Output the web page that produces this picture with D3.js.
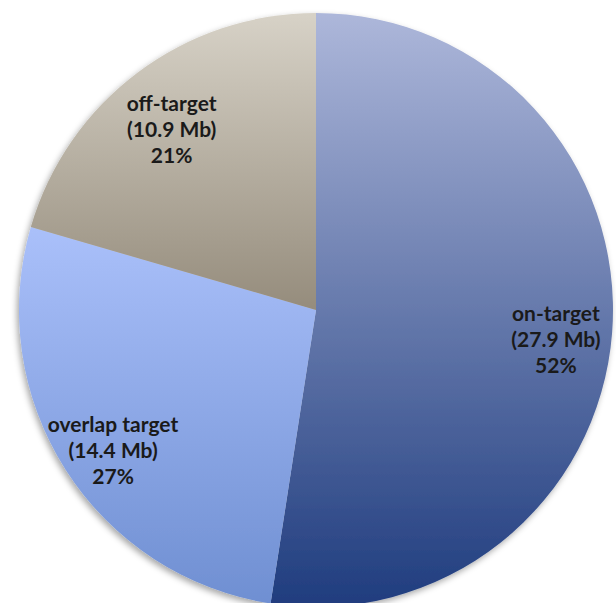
<!DOCTYPE html>
<meta charset="utf-8">
<script src="https://d3js.org/d3.v7.min.js"></script>
<style>
  body { margin: 0; background: #fff; }
</style>
<div id="my_dataviz"></div>
<script>

// data
var categories = ["on-target", "overlap target", "off-target"];
var sizesMb = [27.9, 14.4, 10.9];
var percentLabels = ["52%", "27%", "21%"];

// gradient colours (top, bottom) per slice
var gradTop = ["#adb7da", "#aac0fa", "#d7d2c7"];
var gradBottom = ["#1f3c7e", "#6f8fd2", "#958c7c"];

var width = 616, height = 603;
var cx = 316, cy = 310, radius = 297;

var svg = d3.select("#my_dataviz")
  .append("svg")
    .attr("width", width)
    .attr("height", height);

var defs = svg.append("defs");

categories.forEach(function(c, i) {
  var g = defs.append("linearGradient")
    .attr("id", "grad" + i)
    .attr("x1", 0).attr("y1", 0)
    .attr("x2", 0).attr("y2", 1);
  g.append("stop").attr("offset", "0%").attr("stop-color", gradTop[i]);
  g.append("stop").attr("offset", "100%").attr("stop-color", gradBottom[i]);
});

var shadow = defs.append("filter")
  .attr("id", "shadow")
  .attr("x", "-10%").attr("y", "-10%")
  .attr("width", "120%").attr("height", "120%");
shadow.append("feDropShadow")
  .attr("dx", -2).attr("dy", 3)
  .attr("stdDeviation", 3)
  .attr("flood-color", "#000")
  .attr("flood-opacity", 0.35);

var data = categories.map(function(c, i) {
  return {name: c, value: sizesMb[i], pct: percentLabels[i], idx: i};
});

var pie = d3.pie()
  .sort(null)
  .value(function(d) { return d.value; });

var arc = d3.arc()
  .innerRadius(0)
  .outerRadius(radius);

var labelArc = d3.arc()
  .innerRadius(radius * 0.81)
  .outerRadius(radius * 0.81);

var g = svg.append("g")
  .attr("transform", "translate(" + cx + "," + cy + ")");

var slices = pie(data);

var sliceG = g.append("g").attr("filter", "url(#shadow)");
sliceG.selectAll("path")
  .data(slices)
  .enter()
  .append("path")
    .attr("d", arc)
    .style("fill", function(d) { return "url(#grad" + d.data.idx + ")"; });

// labels
var lineH = 26;
var labels = g.selectAll("text.lbl")
  .data(slices)
  .enter()
  .append("text")
    .attr("class", "lbl")
    .attr("transform", function(d) {
      var p = labelArc.centroid(d);
      return "translate(" + p[0] + "," + (p[1] + 12) + ")";
    })
    .attr("text-anchor", "middle")
    .style("font-family", "Lato, 'Open Sans', sans-serif")
    .style("font-weight", "bold")
    .style("font-size", "21px")
    .style("fill", "#1a1a1a");

labels.append("tspan")
  .attr("x", 0).attr("dy", -lineH + 7)
  .text(function(d) { return d.data.name; });
labels.append("tspan")
  .attr("x", 0).attr("dy", lineH)
  .text(function(d) { return "(" + d.data.value + " Mb)"; });
labels.append("tspan")
  .attr("x", 0).attr("dy", lineH)
  .text(function(d) { return d.data.pct; });

</script>
